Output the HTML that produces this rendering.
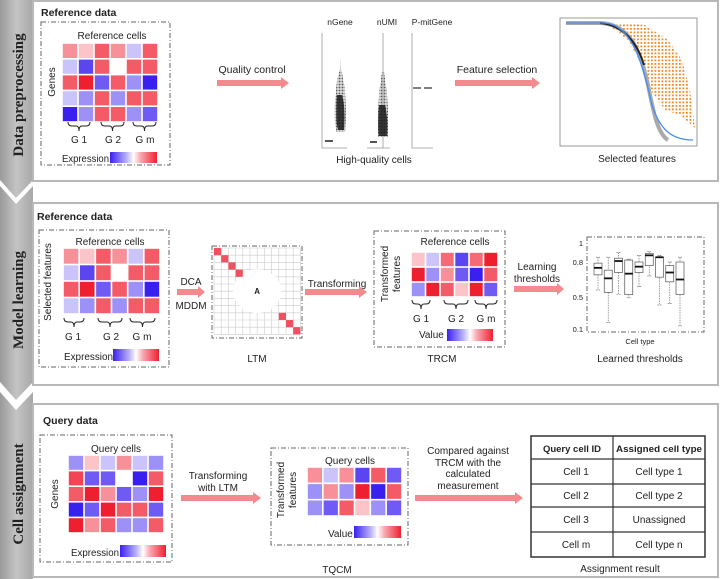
<!DOCTYPE html>
<html><head><meta charset="utf-8"><style>
body{margin:0;background:#fff}
svg{display:block;font-family:"Liberation Sans",sans-serif}
</style></head><body>
<svg id="fig" width="720" height="579" viewBox="0 0 720 579" xmlns="http://www.w3.org/2000/svg">
<defs>
<linearGradient id="leg" x1="0" x2="1" y1="0" y2="0">
<stop offset="0" stop-color="#3a20ee"/><stop offset="0.35" stop-color="#b8b0f8"/><stop offset="0.5" stop-color="#ffffff"/><stop offset="0.65" stop-color="#f8a8b0"/><stop offset="1" stop-color="#ee2030"/>
</linearGradient>
<linearGradient id="band" x1="0" x2="1"><stop offset="0" stop-color="#9a9a9a"/><stop offset="0.5" stop-color="#c4c4c4"/><stop offset="1" stop-color="#a8a8a8"/></linearGradient>
<pattern id="orDots" width="3.5" height="3.5" patternUnits="userSpaceOnUse"><rect width="1.8" height="1.8" fill="#f58a25"/></pattern>
<pattern id="bkDots" width="1.5" height="1.5" patternUnits="userSpaceOnUse"><rect width="1" height="1" fill="#333"/></pattern>
</defs>

<polygon points="0,0 33,0 33,180 16,198 0,180" fill="url(#band)"/>
<polygon points="0,186 16,204 33,186 33,382 16,400 0,382" fill="url(#band)"/>
<polygon points="0,392 16,410 33,392 33,579 0,579" fill="url(#band)"/>
<text transform="translate(23,95) rotate(-90)" text-anchor="middle" font-family="Liberation Serif,serif" font-weight="bold" font-size="15" fill="#222">Data preprocessing</text>
<text transform="translate(23,300) rotate(-90)" text-anchor="middle" font-family="Liberation Serif,serif" font-weight="bold" font-size="15" fill="#222">Model learning</text>
<text transform="translate(23,494) rotate(-90)" text-anchor="middle" font-family="Liberation Serif,serif" font-weight="bold" font-size="15" fill="#222">Cell assignment</text>

<rect x="33" y="1" width="685" height="180" fill="none" stroke="#b8b8b8" stroke-width="2"/>
<rect x="33" y="203" width="685" height="182" fill="none" stroke="#b8b8b8" stroke-width="2"/>
<rect x="33" y="404" width="685" height="173" fill="none" stroke="#b8b8b8" stroke-width="2"/>

<g font-size="10" fill="#222">
<text x="41" y="16" font-weight="bold" font-size="10.5">Reference data</text>
<rect x="41" y="22" width="129" height="143" fill="none" stroke="#666" stroke-dasharray="5,2,1,2"/>
<text x="112" y="39" text-anchor="middle">Reference cells</text>
<text transform="translate(55,82) rotate(-90)" text-anchor="middle">Genes</text>
<g id="hm1"></g>
<g id="br1"></g>
<text x="79" y="143" text-anchor="middle">G 1</text>
<text x="113" y="143" text-anchor="middle">G 2</text>
<text x="145" y="143" text-anchor="middle">G m</text>
<text x="62" y="162" textLength="47" lengthAdjust="spacingAndGlyphs">Expression</text>
<rect x="110" y="152" width="47" height="11" fill="url(#leg)"/>

<text x="252" y="73" text-anchor="middle" font-size="10.5">Quality control</text>
<polygon points="217,80 281,80 281,77 289,83 281,89 281,86 217,86" fill="#f28a8e"/>

<g>
<text x="340" y="25" text-anchor="middle" font-size="8.5">nGene</text>
<path d="M322,33 V148 H347" fill="none" stroke="#999" stroke-width="0.8"/>
<path d="M340,45 L340,70 C334,85 334,120 336,132 L345,132 C347,115 346,85 341,70 Z" fill="url(#bkDots)" opacity="0.8"/>
<path d="M337,95 C336,110 336,125 338,130 L344,130 C345,120 345,105 342,95 Z" fill="#1a1a1a" opacity="0.85"/>
<rect x="325" y="140" width="8" height="2" fill="#555"/>
</g>
<g>
<text x="387" y="25" text-anchor="middle" font-size="8.5">nUMI</text>
<path d="M383,33 V148 M367,148 H390" fill="none" stroke="#999" stroke-width="0.8"/>
<path d="M382,72 C378,95 377,125 378,137 L388,137 C389,120 388,95 384,72 Z" fill="url(#bkDots)" opacity="0.8"/>
<path d="M379,105 C378,120 378,132 379,136 L387,136 C388,125 387,112 385,105 Z" fill="#1a1a1a" opacity="0.85"/>
<rect x="370" y="141" width="7" height="2" fill="#555"/>
</g>
<g>
<text x="432" y="25" text-anchor="middle" font-size="8.5">P-mitGene</text>
<path d="M412,33 V148 H433" fill="none" stroke="#999" stroke-width="0.8"/>
<path d="M413,88 H421 M424,88 H432" stroke="#333" stroke-width="1.2"/>
</g>
<text x="374" y="163" text-anchor="middle">High-quality cells</text>

<text x="497" y="73" text-anchor="middle" font-size="10.5">Feature selection</text>
<polygon points="455,80 532,80 532,77 540,83 532,89 532,86 455,86" fill="#f28a8e"/>

<g>
<rect x="560" y="18" width="137" height="128" fill="none" stroke="#999"/>
<path d="M605,22 L645,25 L668,40 L682,60 L690,90 L695,128 L680,115 L665,110 L652,92 L642,65 L628,40 L612,28 Z" fill="url(#orDots)"/>
<path d="M566,23 L600,23 C630,24 640,50 648,85 C654,115 658,134 668,140" fill="none" stroke="#aaa" stroke-width="4"/>
<path d="M600,23 C625,25 638,45 644,65" fill="none" stroke="#222" stroke-width="2"/>
<path d="M566,23 L605,23 C635,25 645,75 652,105 C660,130 672,140 693,140" fill="none" stroke="#4a8ef0" stroke-width="1.3"/>
</g>
<text x="637" y="162" text-anchor="middle">Selected features</text>

<text x="37" y="220" font-weight="bold" font-size="10.5">Reference data</text>
<rect x="39" y="230" width="130" height="137" fill="none" stroke="#666" stroke-dasharray="5,2,1,2"/>
<text x="110" y="245" text-anchor="middle">Reference cells</text>
<text transform="translate(51,282) rotate(-90)" text-anchor="middle">Selected features</text>
<g id="hm2"></g>
<g id="br2"></g>
<text x="73" y="340" text-anchor="middle">G 1</text>
<text x="111" y="340" text-anchor="middle">G 2</text>
<text x="142" y="340" text-anchor="middle">G m</text>
<text x="64" y="360" textLength="49" lengthAdjust="spacingAndGlyphs">Expression</text>
<rect x="113" y="349" width="46" height="12" fill="url(#leg)"/>

<text x="191" y="285" text-anchor="middle">DCA</text>
<polygon points="177,289 198,289 198,286 205,292 198,298 198,295 177,295" fill="#f28a8e"/>
<text x="191" y="309" text-anchor="middle">MDDM</text>

<rect x="212" y="246" width="90" height="92" fill="none" stroke="#666" stroke-dasharray="5,2,1,2"/>
<g id="ltm"></g>
<text x="257" y="362" text-anchor="middle">LTM</text>

<text x="337" y="287" text-anchor="middle">Transforming</text>
<polygon points="305,289 359,289 359,286 367,292 359,298 359,295 305,295" fill="#f28a8e"/>

<rect x="374" y="231" width="131" height="116" fill="none" stroke="#666" stroke-dasharray="5,2,1,2"/>
<text x="455" y="245" text-anchor="middle">Reference cells</text>
<text transform="translate(388,274) rotate(-90)" text-anchor="middle">Transformed</text>
<text transform="translate(400,274) rotate(-90)" text-anchor="middle">features</text>
<g id="hm3"></g>
<g id="br3"></g>
<text x="421" y="322" text-anchor="middle">G 1</text>
<text x="456" y="322" text-anchor="middle">G 2</text>
<text x="486" y="322" text-anchor="middle">G m</text>
<text x="419" y="338">Value</text>
<rect x="447" y="329" width="46" height="12" fill="url(#leg)"/>
<text x="442" y="362" text-anchor="middle">TRCM</text>

<text x="537" y="270" text-anchor="middle">Learning</text>
<text x="537" y="282" text-anchor="middle">thresholds</text>
<polygon points="514,286 557,286 557,283 564,289 557,295 557,292 514,292" fill="#f28a8e"/>

<rect x="587" y="237" width="117" height="95" fill="none" stroke="#666" stroke-dasharray="5,2,1,2"/>
<g id="bp"></g>
<text x="640" y="344" text-anchor="middle" font-size="7.5">Cell type</text>
<text x="640" y="362" text-anchor="middle">Learned thresholds</text>

<text x="43" y="424" font-weight="bold" font-size="10.5">Query data</text>
<rect x="40" y="435" width="132" height="127" fill="none" stroke="#666" stroke-dasharray="5,2,1,2"/>
<text x="116" y="452" text-anchor="middle">Query cells</text>
<text transform="translate(58,494) rotate(-90)" text-anchor="middle">Genes</text>
<g id="hm4"></g>
<text x="71" y="556" textLength="48" lengthAdjust="spacingAndGlyphs">Expression</text>
<rect x="120" y="545" width="46" height="12" fill="url(#leg)"/>

<text x="218" y="479" text-anchor="middle">Transforming</text>
<text x="218" y="491" text-anchor="middle">with LTM</text>
<polygon points="181,495 253,495 253,492 261,498 253,504 253,501 181,501" fill="#f28a8e"/>

<rect x="271" y="448" width="137" height="97" fill="none" stroke="#666" stroke-dasharray="5,2,1,2"/>
<text x="350" y="464" text-anchor="middle">Query cells</text>
<text transform="translate(284,490) rotate(-90)" text-anchor="middle">Transformed</text>
<text transform="translate(296,490) rotate(-90)" text-anchor="middle">features</text>
<g id="hm5"></g>
<text x="328" y="537">Value</text>
<rect x="354" y="526" width="47" height="12" fill="url(#leg)"/>
<text x="337" y="573" text-anchor="middle">TQCM</text>

<text x="468" y="454" text-anchor="middle">Compared against</text>
<text x="468" y="466" text-anchor="middle">TRCM with the</text>
<text x="468" y="477" text-anchor="middle">calculated</text>
<text x="468" y="489" text-anchor="middle">measurement</text>
<polygon points="415,495 515,495 515,492 523,498 515,504 515,501 415,501" fill="#f28a8e"/>

<g stroke="#333" stroke-width="1.2" fill="none">
<rect x="531" y="436" width="174" height="121" stroke-width="1.5"/>
<line x1="613" y1="436" x2="613" y2="557"/>
<line x1="531" y1="459" x2="705" y2="459"/>
<line x1="531" y1="484" x2="705" y2="484"/>
<line x1="531" y1="507" x2="705" y2="507"/>
<line x1="531" y1="532" x2="705" y2="532"/>
</g>
<g text-anchor="middle">
<text x="572" y="452" font-weight="bold" font-size="9.5">Query cell ID</text>
<text x="659" y="452" font-weight="bold" font-size="9.5" textLength="86" lengthAdjust="spacingAndGlyphs">Assigned cell type</text>
<text x="576" y="475">Cell 1</text>
<text x="659" y="475">Cell type 1</text>
<text x="576" y="499">Cell 2</text>
<text x="659" y="499">Cell type 2</text>
<text x="576" y="523">Cell 3</text>
<text x="659" y="523">Unassigned</text>
<text x="576" y="548">Cell m</text>
<text x="659" y="548">Cell type n</text>
<text x="620" y="572">Assignment result</text>
</g>
</g>
</svg>
<script>
const NS="http://www.w3.org/2000/svg";
const heatRef=[[1.5,0.8,2.2,1.5,-0.8,2.2],[-0.8,-2.5,2.2,0,2.2,2.2],[2.2,3,-2.2,2.2,-1.5,-3],[-0.8,-1.5,2.2,-1.5,2.2,2.2],[-3,-1.5,2.2,2.2,-1.5,-2.2]];
const heatSel=[[1.5,0.8,2.2,1.5,-0.8,2.2],[-0.8,-2.5,2.2,0,2.2,2.2],[2.2,3,-2.2,2.2,-1.5,-3],[-0.8,-1.5,2.2,-1.5,2.2,2.2]];
const heatTRCM=[[0.8,-0.8,2,-2.5,2,3],[3,-1.5,1.5,-2.2,-3,2.2],[-1.5,3,2.2,0.8,3,-2.2]];
const heatQuery=[[-1.5,0.8,-0.8,1.5,-0.8,-1.5],[2.5,-2.2,-2.2,0,-3,2.2],[2.2,3,1.5,-2.2,-1.5,3],[-3,-2.2,3,2.2,2.2,-2.2],[3,1.5,2.2,-1.5,-1.5,2.2]];
const heatTQCM=[[1.5,-0.8,1.5,-2.5,2.2,-2.2],[-1.5,1.5,-1.5,3,-3,2.2],[-1.5,-2.2,2.2,0.8,-1.5,-2.2]];
const boxMin=[0.56,0.18,0.52,0.49,0.59,0.68,0.40,0.42,0.14];
const boxQ1=[0.69,0.54,0.71,0.52,0.71,0.77,0.67,0.63,0.52];
const boxMed=[0.75,0.66,0.81,0.70,0.76,0.87,0.85,0.71,0.65];
const boxQ3=[0.79,0.73,0.84,0.82,0.80,0.89,0.85,0.77,0.80];
const boxMax=[0.85,0.85,0.90,0.83,0.87,0.91,0.87,0.80,0.85];
const yTicks=[1,0.8,0.5,0.1];

function col(v){const t=Math.min(Math.abs(v)/3,1);
 const r=v>=0?[238,32,48]:[58,32,238];
 return `rgb(${Math.round(255+(r[0]-255)*t)},${Math.round(255+(r[1]-255)*t)},${Math.round(255+(r[2]-255)*t)})`;}
function heat(id,data,x,y,w,h){const g=document.getElementById(id);const cw=w/data[0].length,ch=h/data.length;
 data.forEach((row,i)=>row.forEach((v,j)=>{const r=document.createElementNS(NS,'rect');
  r.setAttribute('x',x+j*cw+0.8);r.setAttribute('y',y+i*ch+0.8);r.setAttribute('width',cw-1.6);r.setAttribute('height',ch-1.6);r.setAttribute('fill',col(v));
  
  
  g.appendChild(r);}));}
heat('hm1',heatRef,62,43,96,79);
heat('hm2',heatSel,63,248,97,66);
heat('hm3',heatTRCM,411,252,87,45);
heat('hm4',heatQuery,68,455,96,78);
heat('hm5',heatTQCM,307,467,95,49);

function braces(id,spans,y){const g=document.getElementById(id);spans.forEach(s=>{const a=s[0],b=s[1],m=(a+b)/2;
 const p=document.createElementNS(NS,'path');
 p.setAttribute('d',`M${a},${y} q0,4 4,4 H${m-3} q3,0 3,5 q0,-5 3,-5 H${b-4} q4,0 4,-4`);
 p.setAttribute('fill','none');p.setAttribute('stroke','#222');p.setAttribute('stroke-width','1');
 
 
 g.appendChild(p);});}
braces('br1',[[68,90],[101,124],[133,156]],122);
braces('br2',[[64,84],[98,122],[130,155]],318);
braces('br3',[[412,430],[444,468],[475,497]],300);

(function(){const g=document.getElementById('ltm');const x0=214,y0=248,n=12,s=7.2;
 for(let i=0;i<=n;i++){const l1=document.createElementNS(NS,'line');l1.setAttribute('x1',x0+i*s);l1.setAttribute('x2',x0+i*s);l1.setAttribute('y1',y0);l1.setAttribute('y2',y0+n*s);l1.setAttribute('stroke','#ccc');l1.setAttribute('stroke-width','0.6');
  
  
  g.appendChild(l1);
  const l2=document.createElementNS(NS,'line');l2.setAttribute('y1',y0+i*s);l2.setAttribute('y2',y0+i*s);l2.setAttribute('x1',x0);l2.setAttribute('x2',x0+n*s);l2.setAttribute('stroke','#ccc');l2.setAttribute('stroke-width','0.6');
  
  
  g.appendChild(l2);}
 const c=document.createElementNS(NS,'ellipse');c.setAttribute('cx',x0+6*s);c.setAttribute('cy',y0+6*s);c.setAttribute('rx',24);c.setAttribute('ry',22);c.setAttribute('fill','#fff');
 
 
 g.appendChild(c);
 [0,1,2,3,9,10,11].forEach(i=>{const r=document.createElementNS(NS,'rect');r.setAttribute('x',x0+i*s);r.setAttribute('y',y0+i*s);r.setAttribute('width',s);r.setAttribute('height',s);r.setAttribute('fill','#f05060');
  
  
  g.appendChild(r);});
 const t=document.createElementNS(NS,'text');t.setAttribute('x',x0+6*s);t.setAttribute('y',y0+6*s+3);t.setAttribute('text-anchor','middle');t.setAttribute('font-size','8');t.setAttribute('font-weight','bold');t.textContent='A';
 
 
 g.appendChild(t);})();

(function(){const g=document.getElementById('bp');
 const tv=[1,0.8,0.5,0.1],tp=[243,262,297,329];
 function ys(v){for(let i=0;i<3;i++){if(v>=tv[i+1]){return tp[i]+(tv[i]-v)/(tv[i]-tv[i+1])*(tp[i+1]-tp[i]);}}return tp[3];}
 yTicks.forEach(v=>{const t=document.createElementNS(NS,'text');t.setAttribute('x',583);t.setAttribute('y',ys(v)+3);t.setAttribute('text-anchor','end');t.setAttribute('font-size','7.5');t.textContent=String(v);
  
  
  g.appendChild(t);});
 const n=boxMed.length,x0=598,dx=(680-598)/(n-1),w=8;
 for(let i=0;i<n;i++){const cx=x0+i*dx;
  const wl=document.createElementNS(NS,'path');
  wl.setAttribute('d',`M${cx},${ys(boxMax[i])} V${ys(boxMin[i])} M${cx-2},${ys(boxMax[i])} H${cx+2} M${cx-2},${ys(boxMin[i])} H${cx+2}`);
  wl.setAttribute('stroke','#777');wl.setAttribute('stroke-width','0.7');wl.setAttribute('stroke-dasharray','1.5,1');wl.setAttribute('fill','none');
  
  
  g.appendChild(wl);
  const r=document.createElementNS(NS,'rect');r.setAttribute('x',cx-w/2);r.setAttribute('y',ys(boxQ3[i]));r.setAttribute('width',w);r.setAttribute('height',Math.max(1,ys(boxQ1[i])-ys(boxQ3[i])));r.setAttribute('fill','#fff');r.setAttribute('stroke','#555');r.setAttribute('stroke-width','0.7');
  
  
  g.appendChild(r);
  const m=document.createElementNS(NS,'line');m.setAttribute('x1',cx-w/2);m.setAttribute('x2',cx+w/2);m.setAttribute('y1',ys(boxMed[i]));m.setAttribute('y2',ys(boxMed[i]));m.setAttribute('stroke','#111');m.setAttribute('stroke-width','1.8');
  
  
  g.appendChild(m);}})();
</script>
</body></html>
